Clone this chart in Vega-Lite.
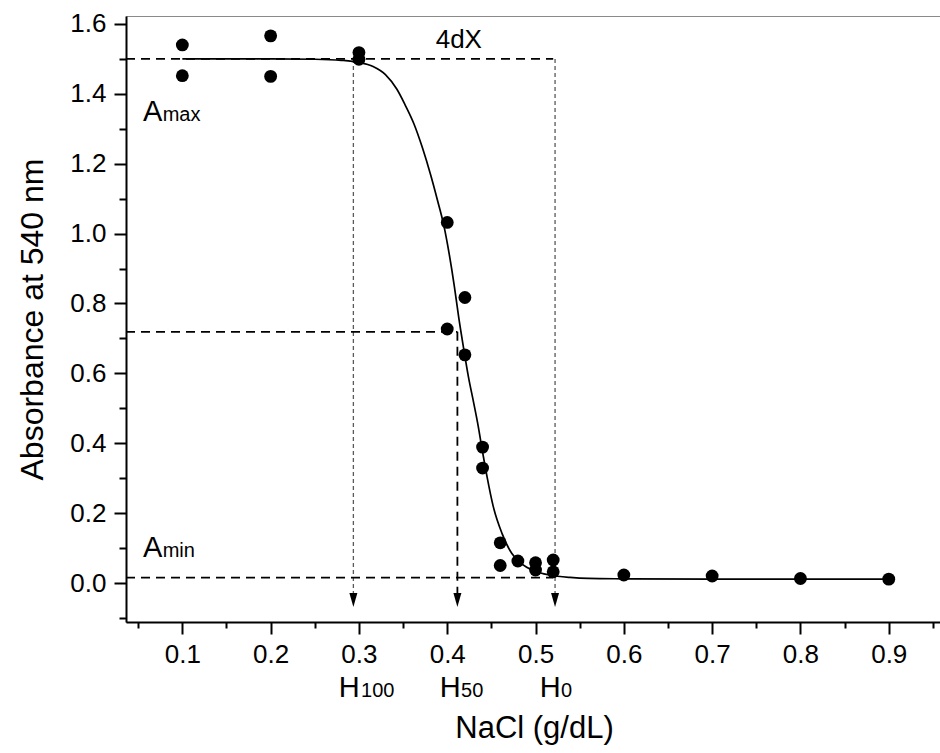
{
  "$schema": "https://vega.github.io/schema/vega-lite/v6.json",
  "width": 816,
  "height": 606,
  "autosize": {"type": "none"},
  "padding": {"left": 126, "top": 16, "right": 0, "bottom": 131},
  "background": "white",
  "config": {
    "view": {"stroke": "#8a8a8a", "strokeWidth": 1},
    "font": "Liberation Sans",
    "axis": {"labelFont": "Liberation Sans", "titleFont": "Liberation Sans", "grid": false},
    "text": {"font": "Liberation Sans", "color": "black"}
  },
  "datasets": {
    "points": [
      {"x": 0.1, "y": 1.540}, {"x": 0.1, "y": 1.452},
      {"x": 0.2, "y": 1.566}, {"x": 0.2, "y": 1.450},
      {"x": 0.3, "y": 1.518}, {"x": 0.3, "y": 1.499},
      {"x": 0.4, "y": 1.032}, {"x": 0.4, "y": 0.727},
      {"x": 0.42, "y": 0.817}, {"x": 0.42, "y": 0.653},
      {"x": 0.44, "y": 0.389}, {"x": 0.44, "y": 0.329},
      {"x": 0.46, "y": 0.115}, {"x": 0.46, "y": 0.050},
      {"x": 0.48, "y": 0.063},
      {"x": 0.50, "y": 0.058}, {"x": 0.50, "y": 0.037},
      {"x": 0.52, "y": 0.066}, {"x": 0.52, "y": 0.032},
      {"x": 0.6, "y": 0.023}, {"x": 0.7, "y": 0.020},
      {"x": 0.8, "y": 0.013}, {"x": 0.9, "y": 0.011}
    ],
    "curve": [
      {"x": 0.100, "y": 1.500}, {"x": 0.150, "y": 1.500}, {"x": 0.200, "y": 1.500},
      {"x": 0.250, "y": 1.499}, {"x": 0.280, "y": 1.496}, {"x": 0.300, "y": 1.490},
      {"x": 0.316, "y": 1.478}, {"x": 0.330, "y": 1.455}, {"x": 0.343, "y": 1.413},
      {"x": 0.352, "y": 1.370}, {"x": 0.362, "y": 1.316}, {"x": 0.372, "y": 1.245},
      {"x": 0.381, "y": 1.170}, {"x": 0.389, "y": 1.095}, {"x": 0.396, "y": 1.025},
      {"x": 0.402, "y": 0.945}, {"x": 0.408, "y": 0.850}, {"x": 0.413, "y": 0.760},
      {"x": 0.418, "y": 0.680}, {"x": 0.424, "y": 0.590}, {"x": 0.430, "y": 0.515},
      {"x": 0.435, "y": 0.450}, {"x": 0.439, "y": 0.390}, {"x": 0.445, "y": 0.305},
      {"x": 0.452, "y": 0.220}, {"x": 0.462, "y": 0.142}, {"x": 0.473, "y": 0.085},
      {"x": 0.482, "y": 0.060}, {"x": 0.490, "y": 0.045}, {"x": 0.500, "y": 0.033},
      {"x": 0.516, "y": 0.023}, {"x": 0.539, "y": 0.016}, {"x": 0.560, "y": 0.013},
      {"x": 0.600, "y": 0.012}, {"x": 0.700, "y": 0.011}, {"x": 0.800, "y": 0.011},
      {"x": 0.900, "y": 0.011}
    ],
    "dashed": [
      {"x": 0.0362, "y": 1.5, "x2": 0.52, "y2": 1.5},
      {"x": 0.0362, "y": 0.719, "x2": 0.4115, "y2": 0.719},
      {"x": 0.0362, "y": 0.0152, "x2": 0.52, "y2": 0.0152},
      {"x": 0.4115, "y": 0.719, "x2": 0.4115, "y2": -0.0286}
    ],
    "dotted": [
      {"x": 0.2937, "y": 1.5, "x2": 0.2937, "y2": -0.0286},
      {"x": 0.5221, "y": 1.5, "x2": 0.5221, "y2": -0.0286}
    ],
    "arrows": [
      {"x": 0.2937, "y": -0.0487},
      {"x": 0.4115, "y": -0.0487},
      {"x": 0.5221, "y": -0.0487}
    ],
    "bigText": [
      {"x": 0.0555, "y": 1.3223, "t": "A"},
      {"x": 0.0555, "y": 0.0735, "t": "A"},
      {"x": 0.2771, "y": -0.327, "t": "H"},
      {"x": 0.3915, "y": -0.327, "t": "H"},
      {"x": 0.5047, "y": -0.327, "t": "H"}
    ],
    "subText": [
      {"x": 0.0777, "y": 1.3223, "t": "max"},
      {"x": 0.0777, "y": 0.0735, "t": "min"},
      {"x": 0.3024, "y": -0.327, "t": "100"},
      {"x": 0.4156, "y": -0.327, "t": "50"},
      {"x": 0.5289, "y": -0.327, "t": "0"}
    ],
    "midText": [
      {"x": 0.4131, "y": 1.532, "t": "4dX"}
    ]
  },
  "layer": [
    {
      "data": {"name": "dotted"},
      "mark": {"type": "rule", "color": "#5a5a5a", "strokeWidth": 1.3, "strokeDash": [4, 3]},
      "encoding": {
        "x": {"field": "x", "type": "quantitative", "axis": null},
        "y": {"field": "y", "type": "quantitative", "axis": null},
        "x2": {"field": "x2"},
        "y2": {"field": "y2"}
      }
    },
    {
      "data": {"name": "dashed"},
      "mark": {"type": "rule", "color": "black", "strokeWidth": 1.8, "strokeDash": [9, 6]},
      "encoding": {
        "x": {"field": "x", "type": "quantitative", "axis": null},
        "y": {"field": "y", "type": "quantitative", "axis": null},
        "x2": {"field": "x2"},
        "y2": {"field": "y2"}
      }
    },
    {
      "data": {"name": "curve"},
      "mark": {"type": "line", "color": "black", "strokeWidth": 1.7, "interpolate": "monotone"},
      "encoding": {
        "x": {
          "field": "x", "type": "quantitative",
          "axis": {
            "orient": "bottom", "values": [0.05, 0.15, 0.25, 0.35, 0.45, 0.55, 0.65, 0.75, 0.85, 0.95],
            "labels": false, "domain": false, "title": null, "tickSize": 6, "tickWidth": 2, "tickColor": "black"
          }
        },
        "y": {
          "field": "y", "type": "quantitative",
          "axis": {
            "orient": "left", "values": [-0.1, 0.1, 0.3, 0.5, 0.7, 0.9, 1.1, 1.3, 1.5],
            "labels": false, "domain": false, "title": null, "tickSize": 7, "tickWidth": 2, "tickColor": "black"
          }
        }
      }
    },
    {
      "data": {"name": "points"},
      "mark": {"type": "circle", "size": 165, "color": "black", "opacity": 1},
      "encoding": {
        "x": {
          "field": "x", "type": "quantitative",
          "scale": {"domain": [0.0362, 0.9603], "nice": false, "zero": false},
          "axis": {
            "orient": "bottom", "values": [0.1, 0.2, 0.3, 0.4, 0.5, 0.6, 0.7, 0.8, 0.9], "format": ".1f",
            "tickSize": 12, "tickWidth": 2, "tickColor": "black", "domainWidth": 2, "domainColor": "black",
            "labelFontSize": 26, "labelColor": "black", "labelPadding": 7,
            "title": "NaCl (g/dL)", "titleFontSize": 31, "titleFontWeight": "normal", "titleColor": "black",
            "titlePadding": 46
          }
        },
        "y": {
          "field": "y", "type": "quantitative",
          "scale": {"domain": [-0.1116, 1.6228], "nice": false, "zero": false},
          "axis": {
            "orient": "left", "values": [0, 0.2, 0.4, 0.6, 0.8, 1.0, 1.2, 1.4, 1.6], "format": ".1f",
            "tickSize": 12, "tickWidth": 2, "tickColor": "black", "domainWidth": 2, "domainColor": "black",
            "labelFontSize": 26, "labelColor": "black", "labelPadding": 8,
            "title": "Absorbance at 540 nm", "titleFontSize": 32, "titleFontWeight": "normal", "titleColor": "black",
            "titlePadding": 20
          }
        }
      }
    },
    {
      "data": {"name": "arrows"},
      "mark": {"type": "point", "shape": "M-0.57,-1L0.57,-1L0,1Z", "size": 196, "filled": true, "color": "black", "opacity": 1, "strokeWidth": 0},
      "encoding": {
        "x": {"field": "x", "type": "quantitative", "axis": null},
        "y": {"field": "y", "type": "quantitative", "axis": null}
      }
    },
    {
      "data": {"name": "bigText"},
      "mark": {"type": "text", "fontSize": 29, "align": "left", "baseline": "alphabetic"},
      "encoding": {
        "x": {"field": "x", "type": "quantitative", "axis": null},
        "y": {"field": "y", "type": "quantitative", "axis": null},
        "text": {"field": "t"}
      }
    },
    {
      "data": {"name": "subText"},
      "mark": {"type": "text", "fontSize": 20, "align": "left", "baseline": "alphabetic"},
      "encoding": {
        "x": {"field": "x", "type": "quantitative", "axis": null},
        "y": {"field": "y", "type": "quantitative", "axis": null},
        "text": {"field": "t"}
      }
    },
    {
      "data": {"name": "midText"},
      "mark": {"type": "text", "fontSize": 26, "align": "center", "baseline": "alphabetic"},
      "encoding": {
        "x": {"field": "x", "type": "quantitative", "axis": null},
        "y": {"field": "y", "type": "quantitative", "axis": null},
        "text": {"field": "t"}
      }
    }
  ],
  "resolve": {"axis": {"x": "independent", "y": "independent"}}
}
